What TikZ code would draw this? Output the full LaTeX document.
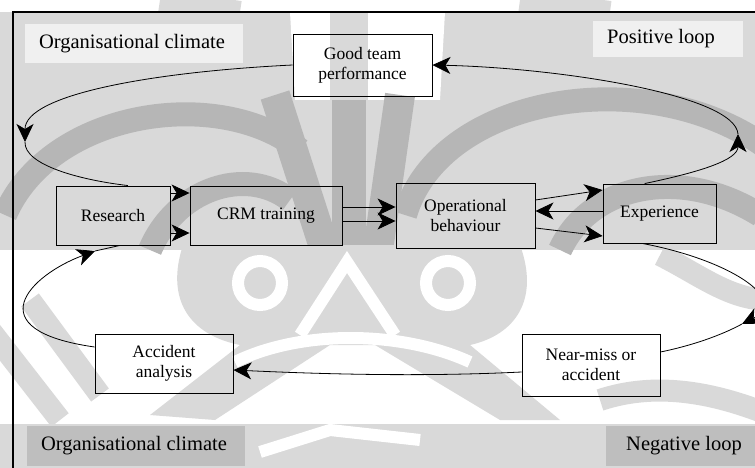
\documentclass[tikz,border=0pt]{standalone}
\usepackage{fontspec}
\setmainfont{Liberation Serif}
\usetikzlibrary{arrows.meta,calc}
\definecolor{wmlight}{HTML}{D9D9D9}
\definecolor{wmdark}{HTML}{B6B6B6}
\definecolor{labpale}{HTML}{F0F0F0}
\definecolor{labgrey}{HTML}{BEBEBE}
\begin{document}
\begin{tikzpicture}[x=1pt,y=-1pt,
  box/.style={draw, line width=0.9pt, inner sep=0pt, align=center,
              font=\fontsize{17.5}{20}\selectfont},
  arr/.style={line width=0.8pt, -{Stealth[length=18pt,width=17pt,inset=5pt]}},
  link/.style={line width=0.8pt},
  tag/.style={font=\fontsize{20.5}{24}\selectfont, inner sep=0pt},
  band/.style={line width=24pt, wmdark},
  ray/.style={line width=30pt, wmdark},
  paleband/.style={line width=22pt, wmlight},
  gap/.style={line width=12pt, white}]
\useasboundingbox (0,0) rectangle (755,468);

% ---- background emblem, in greys ----
\fill[white] (0,0) rectangle (755,468);
\fill[wmlight] (0,12) rectangle (755,250);
% pale patches near the top
\fill[white] (290,12) -- (445,12) -- (440,100) -- (295,100) -- cycle;
\fill[white] (0,0) rectangle (755,11);
\draw[paleband] (160,0) -- (240,12);
\draw[paleband] (520,0) -- (610,12);
% outer arcs
\draw[band] (5,215) .. controls (50,110) and (220,85) .. (300,150);
\draw[band] (405,215) .. controls (440,95) and (650,60) .. (770,150);
% inner arcs
\draw[band] (150,250) .. controls (175,190) and (245,165) .. (290,200);
\draw[band] (560,250) .. controls (590,185) and (680,165) .. (760,215);
% rays
\fill[wmlight] (330,12) rectangle (368,100);
\fill[wmdark] (332,100) rectangle (366,250);
\draw[ray] (275,95) -- (325,250);
\draw[ray] (400,95) -- (378,250);
% lower part of the emblem
\fill[wmlight] (183,245) .. controls (165,300) and (190,335) .. (240,345)
  -- (150,415) -- (215,420) -- (330,345) -- (375,345) -- (500,420) -- (560,420)
  -- (470,345) .. controls (515,335) and (540,300) .. (520,245) -- cycle;
\draw[gap] (260,283) circle [radius=22pt];
\draw[gap] (448,283) circle [radius=22pt];
\draw[gap] (300,335) -- (347,262) -- (395,335);
\draw[gap] (235,362) .. controls (300,330) and (400,330) .. (470,362);
\draw[paleband] (-10,330) -- (60,420);
\draw[paleband] (30,300) -- (100,395);
\draw[paleband] (660,255) .. controls (700,275) and (730,300) .. (770,300);
\draw[paleband] (600,400) .. controls (660,380) and (720,395) .. (770,415);
\fill[wmlight] (0,424) rectangle (755,468);
\draw[gap] (260,452) -- (330,430) -- (420,440);

% ---- label panels ----
\fill[labpale] (25,24) rectangle (243,63);
\fill[labpale] (593,21) rectangle (743,57);
\fill[labgrey] (27,426) rectangle (245,466);
\fill[labgrey] (606,426) rectangle (755,466);

% ---- frame ----
\draw[line width=1.1pt] (13,470) -- (13,12) -- (760,12);

% ---- labels ----
\node[tag] (oc1) at (132,44) {Organisational climate};
\node[tag] (pl)  at (661,39) {Positive loop};
\node[tag] (oc2) at (134,446) {Organisational climate};
\node[tag] (nl)  at (684,446) {Negative loop};

% ---- boxes ----
\node[box, minimum width=139pt, minimum height=62pt] (good)     at (362.5,65)  {Good team\\performance};
\node[box, minimum width=114pt, minimum height=59pt] (research) at (113,215.5) {Research};
\node[box, minimum width=152pt, minimum height=59pt] (crm)      at (266,215.5) {CRM training};
\node[box, minimum width=139pt, minimum height=65pt] (op)       at (465.5,215.5) {Operational\\behaviour};
\node[box, minimum width=113pt, minimum height=59pt] (exp)      at (659.5,213.5) {Experience};
\node[box, minimum width=138pt, minimum height=59pt] (acc)      at (164,363.5) {Accident\\analysis};
\node[box, minimum width=138pt, minimum height=62pt] (near)     at (591,365)   {Near-miss or\\accident};

% turning points of the loops
\coordinate (tl) at (25,142);
\coordinate (tr) at (738,134);
\coordinate (br) at (742,324);
\coordinate (bl) at (95,251);

% ---- positive loop ----
\draw[arr] (good.west) .. controls (150,72) and (25,95) .. (tl);
\draw[link] (tl) .. controls (24,165) and (80,180) .. ($(research.north west)!0.63!(research.north east)$);
\draw[arr] ([yshift=22.5pt]research.east) -- ([yshift=22.5pt]research.east -| crm.west);
\draw[arr] ([yshift=-17.5pt]research.east) -- ([yshift=-17.5pt]research.east -| crm.west);
\draw[arr] ([yshift=8.5pt]crm.east) -- ([yshift=8.5pt]crm.east -| op.west);
\draw[arr] ([yshift=-5.5pt]crm.east) -- ([yshift=-5.5pt]crm.east -| op.west);
\draw[arr] ([yshift=15.5pt]op.east) -- ([yshift=23.5pt]exp.west);
\draw[arr] ([yshift=2.5pt]exp.west) -- ([yshift=2.5pt]exp.west -| op.east);
\draw[arr] ([yshift=-12.5pt]op.east) -- ([yshift=-22.5pt]exp.west);
\draw[arr] ($(exp.north west)!0.37!(exp.north east)$) .. controls (700,172) and (738,160) .. (tr);
\draw[arr] (tr) .. controls (735,95) and (560,68) .. (good.east);

% ---- negative loop ----
\draw[arr] ($(exp.south west)!0.35!(exp.south east)$) .. controls (730,260) and (790,300) .. (br);
\draw[link] (br) .. controls (720,336) and (690,346) .. ([yshift=13pt]near.east);
\draw[arr] ([yshift=-7pt]near.west) .. controls (420,377) and (320,374) .. ([yshift=-6.5pt]acc.east);
\draw[arr] ([yshift=16.5pt]acc.west) .. controls (-25,330) and (30,275) .. (bl);
\draw[link] (bl) -- ($(research.south west)!0.56!(research.south east)$);
\end{tikzpicture}
\end{document}
